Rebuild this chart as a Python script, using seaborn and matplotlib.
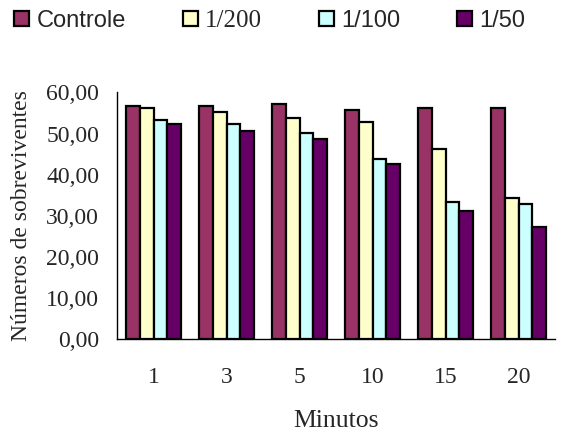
"""Sobreviventes por minuto, por diluição (gráfico de barras agrupadas)."""

import matplotlib
matplotlib.use("Agg")
import matplotlib.pyplot as plt
import numpy as np
import pandas as pd
import seaborn as sns
from matplotlib.ticker import FixedLocator, FuncFormatter

minutos = ["1", "3", "5", "10", "15", "20"]
tratamentos = ["Controle", "1/200", "1/100", "1/50"]
controle = [56.7, 56.7, 57.2, 55.8, 56.2, 56.2]
dil_200 = [56.1, 55.2, 53.8, 52.8, 46.2, 34.4]
dil_100 = [53.3, 52.4, 50.1, 43.9, 33.5, 32.9]
dil_50 = [52.4, 50.6, 48.7, 42.5, 31.1, 27.3]
cores = ["#993366", "#FFFFCC", "#CCFFFF", "#660066"]

series = {"Controle": controle, "1/200": dil_200, "1/100": dil_100, "1/50": dil_50}
df = pd.DataFrame(
    [(m, t, v) for t, vals in series.items() for m, v in zip(minutos, vals)],
    columns=["Minutos", "Tratamento", "valor"],
)

sns.set_style("white")
plt.rcParams["font.family"] = ["Liberation Serif", "DejaVu Serif"]
plt.rcParams["font.size"] = 17

fig = plt.figure(figsize=(5.77, 4.34), dpi=100)
ax = fig.add_axes([0.203, 0.218, 0.759, 0.569])

sns.barplot(
    data=df, x="Minutos", y="valor", hue="Tratamento",
    order=minutos, hue_order=tratamentos, palette=cores, saturation=1,
    width=0.75, edgecolor="black", linewidth=1.6, ax=ax,
)

ax.set_ylim(0, 60)
ax.set_xlim(-0.5, len(minutos) - 0.5)
ax.set_yticks(np.arange(0, 61, 10))
ax.yaxis.set_major_formatter(FuncFormatter(lambda v, _: f"{v:.2f}".replace(".", ",")))
ax.xaxis.set_minor_locator(FixedLocator(np.arange(-0.5, len(minutos), 1.0)))
ax.tick_params(axis="x", which="major", length=0, pad=20)
ax.tick_params(axis="x", which="minor", length=7, width=1, color="black", direction="out")
ax.tick_params(axis="y", length=7, width=1, color="black", direction="out", pad=6)

for side in ["top", "right"]:
    ax.spines[side].set_visible(False)
for side in ["left", "bottom"]:
    ax.spines[side].set_color("black")
    ax.spines[side].set_linewidth(1)

ax.set_xlabel("Minutos", labelpad=16, fontsize=18.5)
ax.set_ylabel("Números de sobreviventes", labelpad=10)

handles, labels = ax.get_legend_handles_labels()
ax.get_legend().remove()
leg = fig.legend(
    handles, labels, loc="center left", bbox_to_anchor=(0.008, 0.952),
    ncol=4, frameon=False, handlelength=0.65, handleheight=0.65,
    handletextpad=0.3, columnspacing=2.4, borderaxespad=0,
)
for txt in leg.get_texts():
    if txt.get_text() == "1/200":
        txt.set_fontsize(18)
    else:
        txt.set_family(["Liberation Sans", "DejaVu Sans"])

fig.savefig("out.png", dpi=100)
